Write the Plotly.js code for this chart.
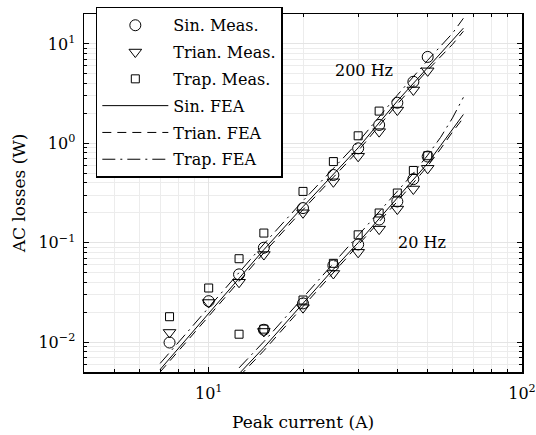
<!DOCTYPE html>
<html>
<head>
<meta charset="utf-8">
<script src="https://cdn.plot.ly/plotly-3.0.1.min.js"></script>
<style>html,body{margin:0;padding:0;background:#fff;}#chart{width:536px;height:435px;}</style>
</head>
<body>
<div id="chart"></div>
<script>
// ---- Measured data, 200 Hz ----
const current200 = [7.5, 10, 12.5, 15, 20, 25, 30, 35, 40, 45, 50];
const sinMeas200 = [0.0099, 0.0258, 0.048, 0.089, 0.223, 0.48, 0.89, 1.53, 2.56, 4.16, 7.4];
const trianMeas200 = [0.0125, 0.025, 0.040, 0.076, 0.20, 0.41, 0.74, 1.31, 2.16, 3.44, 5.36];
const currentTrap200 = [7.5, 10, 12.5, 15, 20, 25, 30, 35];
const trapMeas200 = [0.018, 0.035, 0.069, 0.125, 0.328, 0.655, 1.19, 2.11];

// ---- Measured data, 20 Hz ----
const current20 = [15, 20, 25, 30, 35, 40, 45, 50];
const sinMeas20 = [0.0133, 0.0245, 0.059, 0.096, 0.171, 0.26, 0.436, 0.736];
const trianMeas20 = [0.0128, 0.0222, 0.049, 0.080, 0.137, 0.218, 0.347, 0.56];
const currentTrap20 = [12.5, 15, 20, 25, 30, 35, 40, 45, 50];
const trapMeas20 = [0.012, 0.0135, 0.0265, 0.062, 0.12, 0.199, 0.316, 0.533, 0.75];

// ---- FEA curves, 200 Hz ----
const currentFea200 = [7, 10, 15, 20, 30, 40, 50, 60, 65];
const sinFea200 = [0.0053, 0.0194, 0.085, 0.23, 0.90, 2.66, 5.84, 11.0, 14.4];
const trianFea200 = [0.0050, 0.0182, 0.079, 0.215, 0.84, 2.48, 5.45, 9.9, 13.4];
const trapFea200 = [0.0061, 0.0223, 0.097, 0.264, 1.03, 3.05, 6.85, 12.8, 18.1];

// ---- FEA curves, 20 Hz ----
const currentFea20 = [12.5, 15, 20, 25, 30, 35, 40, 45, 50, 55, 60, 65];
const sinFea20 = [0.0048, 0.0088, 0.0245, 0.054, 0.10, 0.175, 0.28, 0.43, 0.63, 0.95, 1.4, 1.95];
const trianFea20 = [0.0045, 0.0082, 0.0228, 0.050, 0.093, 0.163, 0.26, 0.40, 0.59, 0.88, 1.3, 1.8];
const trapFea20 = [0.0055, 0.0101, 0.028, 0.062, 0.116, 0.203, 0.33, 0.50, 0.76, 1.15, 1.8, 2.9];

// ---- Labels ----
const legendNames = ['Sin. Meas.', 'Trian. Meas.', 'Trap. Meas.', 'Sin. FEA', 'Trian. FEA', 'Trap. FEA'];
const xTickVals = [10, 100];
const xTickText = ['10<sup>1</sup>', '10<sup>2</sup>'];
const yTickVals = [0.01, 0.1, 1, 10];
const yTickText = ['10<sup>\u22122</sup>', '10<sup>\u22121</sup>', '10<sup>0</sup>', '10<sup>1</sup>'];
const freqLabels = ['200 Hz', '20 Hz'];

const FONT = 'DejaVu Serif';
const FS = 16;
const BLACK = '#000';

function minorVals(lo, hi) {
  const out = [];
  for (let e = lo; e < hi; e++) for (let m = 2; m <= 9; m++) out.push(m * Math.pow(10, e));
  return out;
}

function meas(x, y, name, symbol, size, group, show) {
  return {x: x, y: y, type: 'scatter', mode: 'markers', name: name, legendgroup: group, showlegend: show,
    marker: {symbol: symbol, size: size, color: BLACK, line: {color: BLACK, width: 1}}};
}
function fea(x, y, name, dash, group, show) {
  return {x: x, y: y, type: 'scatter', mode: 'lines', name: name, legendgroup: group, showlegend: show,
    line: {color: BLACK, width: 1, dash: dash}};
}

const DASH = '9px,6px';
const DASHDOT = '13px,5px,2px,5px';

const data = [
  meas(current200, sinMeas200, legendNames[0], 'circle-open', 11, 'a', true),
  meas(current200, trianMeas200, legendNames[1], 'triangle-down-open', 11, 'b', true),
  meas(currentTrap200, trapMeas200, legendNames[2], 'square-open', 8, 'c', true),
  fea(currentFea200, sinFea200, legendNames[3], 'solid', 'd', true),
  fea(currentFea200, trianFea200, legendNames[4], DASH, 'e', true),
  fea(currentFea200, trapFea200, legendNames[5], DASHDOT, 'f', true),
  meas(current20, sinMeas20, legendNames[0], 'circle-open', 11, 'a', false),
  meas(current20, trianMeas20, legendNames[1], 'triangle-down-open', 11, 'b', false),
  meas(currentTrap20, trapMeas20, legendNames[2], 'square-open', 8, 'c', false),
  fea(currentFea20, sinFea20, legendNames[3], 'solid', 'd', false),
  fea(currentFea20, trianFea20, legendNames[4], DASH, 'e', false),
  fea(currentFea20, trapFea20, legendNames[5], DASHDOT, 'f', false)
];

const axisCommon = {
  type: 'log', showline: true, linecolor: BLACK, linewidth: 1.5, mirror: 'allticks',
  ticks: 'inside', ticklen: 5, tickcolor: BLACK, tickwidth: 1,
  showgrid: true, gridcolor: '#e4e4e4', gridwidth: 1, zeroline: false, automargin: false,
  tickmode: 'array', tickfont: {family: FONT, size: FS, color: BLACK}
};

const layout = {
  width: 536, height: 435,
  margin: {l: 84, r: 14, t: 14, b: 63, autoexpand: false},
  paper_bgcolor: '#fff', plot_bgcolor: '#fff',
  font: {family: FONT, size: FS, color: BLACK},
  xaxis: Object.assign({}, axisCommon, {
    range: [Math.log10(4), 2], tickvals: xTickVals, ticktext: xTickText, ticklabelstandoff: 6,
    minor: {tickmode: 'array', tickvals: minorVals(0, 2), ticks: 'inside', ticklen: 3, tickcolor: BLACK, showgrid: true, gridcolor: '#ececec'},
    title: {text: 'Peak current (A)', font: {family: FONT, size: 17, color: BLACK}, standoff: 14}
  }),
  yaxis: Object.assign({}, axisCommon, {
    range: [Math.log10(0.005), Math.log10(20)], tickvals: yTickVals, ticktext: yTickText, ticklabelstandoff: 4,
    minor: {tickmode: 'array', tickvals: minorVals(-3, 2), ticks: 'inside', ticklen: 3, tickcolor: BLACK, showgrid: true, gridcolor: '#ececec'},
    title: {text: 'AC losses (W)', font: {family: FONT, size: 17, color: BLACK}, standoff: 8}
  }),
  legend: {
    x: 0.027, y: 1.02, xanchor: 'left', yanchor: 'top',
    bgcolor: '#fff', bordercolor: BLACK, borderwidth: 1.5,
    font: {family: FONT, size: FS, color: BLACK}, itemwidth: 66, tracegroupgap: 3,
    traceorder: 'grouped'
  },
  annotations: [
    {text: freqLabels[0], xref: 'x', yref: 'y', x: Math.log10(31.3), y: 0.73, showarrow: false,
     font: {family: FONT, size: FS, color: BLACK}},
    {text: freqLabels[1], xref: 'x', yref: 'y', x: Math.log10(48), y: -1.0, showarrow: false,
     font: {family: FONT, size: FS, color: BLACK}}
  ],
  showlegend: true
};

Plotly.newPlot('chart', data, layout, {displayModeBar: false, staticPlot: true});
</script>
</body>
</html>
